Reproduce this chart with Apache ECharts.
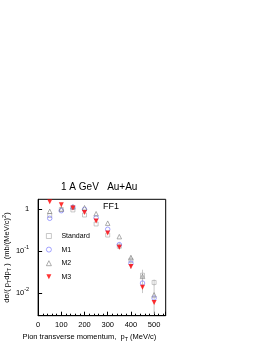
<!DOCTYPE html>
<html><head><meta charset="utf-8">
<script src="https://cdn.jsdelivr.net/npm/echarts@6/dist/echarts.min.js"></script>
<style>html,body{margin:0;padding:0;background:#fff}#c{width:274px;height:354px}</style>
</head><body><div id="c"></div>
<script>
var pt = [50,100,150,200,250,300,350,400,450,500];
var standard = [0.70,0.97,0.95,0.72,0.44,0.24,0.13,0.060,0.0266,0.0179];
var m1 = [0.60,0.91,1.10,0.98,0.62,0.33,0.142,0.051,0.0173,0.0076];
var m2 = [0.88,1.00,1.12,1.07,0.77,0.46,0.22,0.070,0.025,0.0091];
var m3 = [1.48,1.26,1.05,0.82,0.52,0.27,0.123,0.043,0.0137,0.0060];
var errX = [350,400,450,500,500];
var errLow = [0.11,0.038,0.010,0.0032,0.015];
var errHigh = [0.16,0.078,0.036,0.0158,0.021];
var yTickValues = [1,0.1,0.01];
var yTickLabels = ['1','10{s|-1}','10{s|-2}'];

var F = 'Liberation Sans, Arial, sans-serif';
function pairs(v){ return pt.map(function(x,i){ return [x, v[i]]; }); }
var errData = errX.map(function(x,i){ return [x, errLow[i], errHigh[i]]; });
var chart = echarts.init(document.getElementById('c'));
chart.setOption({
  animation:false,
  backgroundColor:'#fff',
  title:{text:'1 A GeV   Au+Au', left:56, top:177, textStyle:{fontFamily:F, fontSize:10, fontWeight:'normal', color:'#000'}},
  graphic:[{type:'text', left:103, top:202, style:{text:'FF1', font:'9px '+F, fill:'#000'}}],
  legend:{orient:'vertical', left:41, top:227.5, itemWidth:5, itemHeight:5, itemGap:6.6,
    itemStyle:{borderWidth:0.8},
    textStyle:{fontFamily:F, fontSize:7, color:'#000', padding:[0,0,0,5]},
    data:['Standard','M1','M2','M3']},
  grid:{left:31.7, right:108.3, top:199.3, bottom:38.3, show:true, borderColor:'#000', borderWidth:1, backgroundColor:'transparent'},
  xAxis:{type:'value', min:0, max:550, interval:100,
    name:'Pion transverse momentum,  p{b|T} (MeV/c)', nameLocation:'middle', nameGap:16,
    nameTextStyle:{fontFamily:F, fontSize:7.5, color:'#000', padding:[0,25,0,0], rich:{b:{fontSize:5.5, padding:[5,0,0,0], fontFamily:F}}},
    axisLine:{lineStyle:{color:'#000', width:1}},
    axisTick:{inside:true, length:4, lineStyle:{color:'#000'}},
    minorTick:{show:true, splitNumber:5, length:2, lineStyle:{color:'#000'}},
    splitLine:{show:false},
    axisLabel:{fontFamily:F, fontSize:7.5, color:'#000', margin:5, showMaxLabel:false}},
  yAxis:{type:'log', logBase:10, min:0.0029, max:1.7,
    name:'dσ/( p{b|T}dp{b|T} )  (mb/(MeV/c){s|2})', nameLocation:'middle', nameGap:20,
    nameTextStyle:{fontFamily:F, fontSize:7.5, color:'#000', rich:{b:{fontSize:5.5, padding:[5,0,0,0], fontFamily:F}, s:{fontSize:5.5, padding:[0,0,5,0], fontFamily:F}}},
    axisLine:{lineStyle:{color:'#000', width:1}},
    axisTick:{inside:true, length:4, lineStyle:{color:'#000'}},
    splitLine:{show:false},
    axisLabel:{fontFamily:F, fontSize:7.5, color:'#000', margin:9, showMinLabel:false, showMaxLabel:false,
      formatter:function(v){
        for (var i=0;i<yTickValues.length;i++){ if (Math.abs(Math.log10(v)-Math.log10(yTickValues[i]))<1e-6) return yTickLabels[i]; }
        return '';
      },
      rich:{s:{fontSize:5.5, padding:[0,0,8,0], fontFamily:F}}}},
  series:[
    {type:'custom', silent:true, data:errData, z:1,
      renderItem:function(params, api){
        var p1 = api.coord([api.value(0), api.value(1)]);
        var p2 = api.coord([api.value(0), api.value(2)]);
        return {type:'line', shape:{x1:p1[0], y1:p1[1], x2:p2[0], y2:p2[1]}, style:{stroke:'#c8c8c8', lineWidth:1}};
      }},
    {name:'Standard', type:'scatter', data:pairs(standard), symbol:'rect', symbolSize:4,
      itemStyle:{color:'transparent', borderColor:'#a8a8a8', borderWidth:0.8}},
    {name:'M1', type:'scatter', data:pairs(m1), symbol:'circle', symbolSize:4.5,
      itemStyle:{color:'transparent', borderColor:'#7070ff', borderWidth:0.8}},
    {name:'M2', type:'scatter', data:pairs(m2), symbol:'triangle', symbolSize:4.5,
      itemStyle:{color:'transparent', borderColor:'#808080', borderWidth:0.8}},
    {name:'M3', type:'scatter', data:pairs(m3), symbol:'path://M0,0 L10,0 L5,10 Z', symbolSize:5,
      itemStyle:{color:'#ff0000'}}
  ]
});
</script></body></html>
